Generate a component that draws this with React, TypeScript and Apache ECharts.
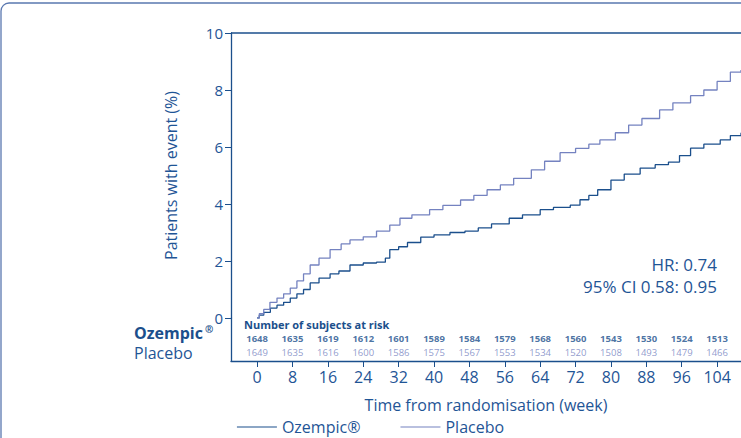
import React, { useEffect, useRef } from 'react';
import * as echarts from 'echarts';

const weeks = [0, 8, 16, 24, 32, 40, 48, 56, 64, 72, 80, 88, 96, 104];
const ozempicAtRisk = [1648, 1635, 1619, 1612, 1601, 1589, 1584, 1579, 1568, 1560, 1543, 1530, 1524, 1513];
const placeboAtRisk = [1649, 1635, 1616, 1600, 1586, 1575, 1567, 1553, 1534, 1520, 1508, 1493, 1479, 1466];

// [week, cumulative %]
const ozempicCurve: [number, number][] = [
  [0, 0], [0.5, 0.1], [1.5, 0.2], [3, 0.35], [4.5, 0.45], [6, 0.55], [7.5, 0.7], [9, 0.85], [10.5, 1.0],
  [12, 1.23], [14, 1.4], [16.5, 1.55], [18.5, 1.65], [21, 1.86], [24, 1.93], [27, 1.96], [29, 2.1],
  [30, 2.4], [32, 2.5], [34, 2.65], [37, 2.84], [40, 2.92], [43.6, 3.0], [47, 3.05], [50, 3.16],
  [53, 3.3], [57, 3.5], [60, 3.62], [64, 3.8], [67, 3.88], [70.8, 3.96], [73, 4.15], [75, 4.3],
  [77, 4.5], [80, 4.84], [83, 5.05], [86.6, 5.26], [90, 5.38], [93, 5.47], [95.5, 5.7], [98, 5.96],
  [101, 6.1], [104.7, 6.25], [107, 6.4], [109.4, 6.5],
];
const placeboCurve: [number, number][] = [
  [0, 0], [0.5, 0.15], [1.5, 0.3], [2.9, 0.55], [4.5, 0.7], [6, 0.85], [7.5, 1.05], [9, 1.3], [10.5, 1.55],
  [12, 1.86], [14, 2.1], [16.5, 2.4], [19, 2.6], [21, 2.74], [24, 2.85], [27, 3.05], [30, 3.26],
  [32.3, 3.5], [35, 3.62], [39, 3.8], [42, 3.95], [46, 4.14], [49, 4.3], [52, 4.5], [55, 4.67],
  [58, 4.9], [62, 5.2], [65, 5.5], [68.5, 5.8], [72, 5.95], [75, 6.1], [77.5, 6.25], [81, 6.5],
  [84, 6.77], [87, 7.0], [91, 7.3], [94, 7.55], [98, 7.8], [101, 8.0], [104, 8.3], [107, 8.63], [109.4, 8.7],
];

const dark = '#1b4f8c';
const light = '#7482c0';
const textBlue = '#1f5596';
const xMin = -5.9;
const xMax = 109.4;

const App: React.FC = () => {
  const ref = useRef<HTMLDivElement>(null);

  useEffect(() => {
    if (!ref.current) return;
    const chart = echarts.init(ref.current, undefined, { renderer: 'svg' });
    const font = 'Open Sans, sans-serif';
    const tableSeries = (vals: number[], y: number, color: string, bold: boolean) => ({
      type: 'scatter',
      xAxisIndex: 1,
      yAxisIndex: 1,
      symbolSize: 0,
      silent: true,
      data: weeks.map((w, i) => [w, y, vals[i]]),
      label: {
        show: true,
        position: 'inside',
        formatter: (p: any) => String(p.value[2]),
        color,
        fontSize: 9.5,
        fontWeight: bold ? 'bold' : 'normal',
        fontFamily: font,
      },
    });
    chart.setOption({
      animation: false,
      textStyle: { fontFamily: font },
      grid: [
        { left: 231, top: 33, width: 520, height: 285 },
        { left: 231, top: 318, width: 520, height: 43 },
      ],
      xAxis: [
        { gridIndex: 0, type: 'value', min: xMin, max: xMax, show: false },
        {
          gridIndex: 1, type: 'value', min: xMin, max: xMax,
          axisLine: { onZero: false, lineStyle: { color: dark, width: 1.3 } },
          axisTick: { customValues: weeks, length: 6, lineStyle: { color: dark } },
          axisLabel: { customValues: weeks, color: textBlue, fontSize: 16, margin: 8 },
          splitLine: { show: false },
          name: 'Time from randomisation (week)',
          nameLocation: 'middle',
          nameGap: 36,
          nameTextStyle: { color: textBlue, fontSize: 16 },
        },
      ],
      yAxis: [
        {
          gridIndex: 0, type: 'value', min: 0, max: 10, interval: 2,
          axisLine: { show: true, onZero: false, lineStyle: { color: dark, width: 1.3 } },
          axisTick: { show: true, length: 6, lineStyle: { color: dark } },
          axisLabel: { color: textBlue, fontSize: 15, margin: 8 },
          splitLine: { show: false },
          name: 'Patients with event (%)',
          nameLocation: 'middle',
          nameRotate: 90,
          nameGap: 52,
          nameTextStyle: { color: textBlue, fontSize: 16 },
        },
        {
          gridIndex: 1, type: 'value', min: 0, max: 1,
          axisLine: { show: true, onZero: false, lineStyle: { color: dark, width: 1.3 } },
          axisTick: { show: false }, axisLabel: { show: false }, splitLine: { show: false },
        },
      ],
      legend: {
        bottom: -2, left: 'center', itemGap: 40, itemWidth: 40,
        icon: 'path://M0,0 L40,0 L40,1 L0,1 Z',
        textStyle: { color: textBlue, fontSize: 16 },
        data: [
          { name: 'Ozempic®', itemStyle: { color: dark } },
          { name: 'Placebo', itemStyle: { color: light } },
        ],
      },
      series: [
        { name: 'Ozempic®', type: 'line', step: 'end', showSymbol: false, data: ozempicCurve, lineStyle: { color: dark, width: 1.3 }, itemStyle: { color: dark } },
        { name: 'Placebo', type: 'line', step: 'end', showSymbol: false, data: placeboCurve, lineStyle: { color: light, width: 1.3 }, itemStyle: { color: light } },
        tableSeries(ozempicAtRisk, 0.53, dark, true),
        tableSeries(placeboAtRisk, 0.19, light, false),
      ],
      graphic: [
        { type: 'rect', shape: { x: 1, y: 3, width: 800, height: 500, r: 8 }, style: { fill: 'none', stroke: '#5a78b0', lineWidth: 1.3 } },
        { type: 'line', shape: { x1: 231, y1: 33, x2: 741, y2: 33 }, style: { stroke: dark, lineWidth: 1.3 } },
        { type: 'text', left: 244, top: 319, style: { text: 'Number of subjects at risk', fill: dark, font: `bold 11px ${font}` } },
        { type: 'text', left: 134, top: 325, style: { text: 'Ozempic', fill: dark, font: `bold 16px ${font}` } },
        { type: 'text', left: 205, top: 324, style: { text: '®', fill: dark, font: `bold 10px ${font}` } },
        { type: 'text', left: 134, top: 345, style: { text: 'Placebo', fill: textBlue, font: `16px ${font}` } },
        { type: 'text', right: 24, top: 256, style: { text: 'HR: 0.74', fill: textBlue, font: `17px ${font}`, align: 'right' } },
        { type: 'text', right: 24, top: 278, style: { text: '95% CI 0.58: 0.95', fill: textBlue, font: `17px ${font}`, align: 'right' } },
      ],
    });
    return () => chart.dispose();
  }, []);

  return <div ref={ref} style={{ position: 'fixed', left: 0, top: 0, width: 741, height: 438, background: '#fff' }} />;
};

export default App;
